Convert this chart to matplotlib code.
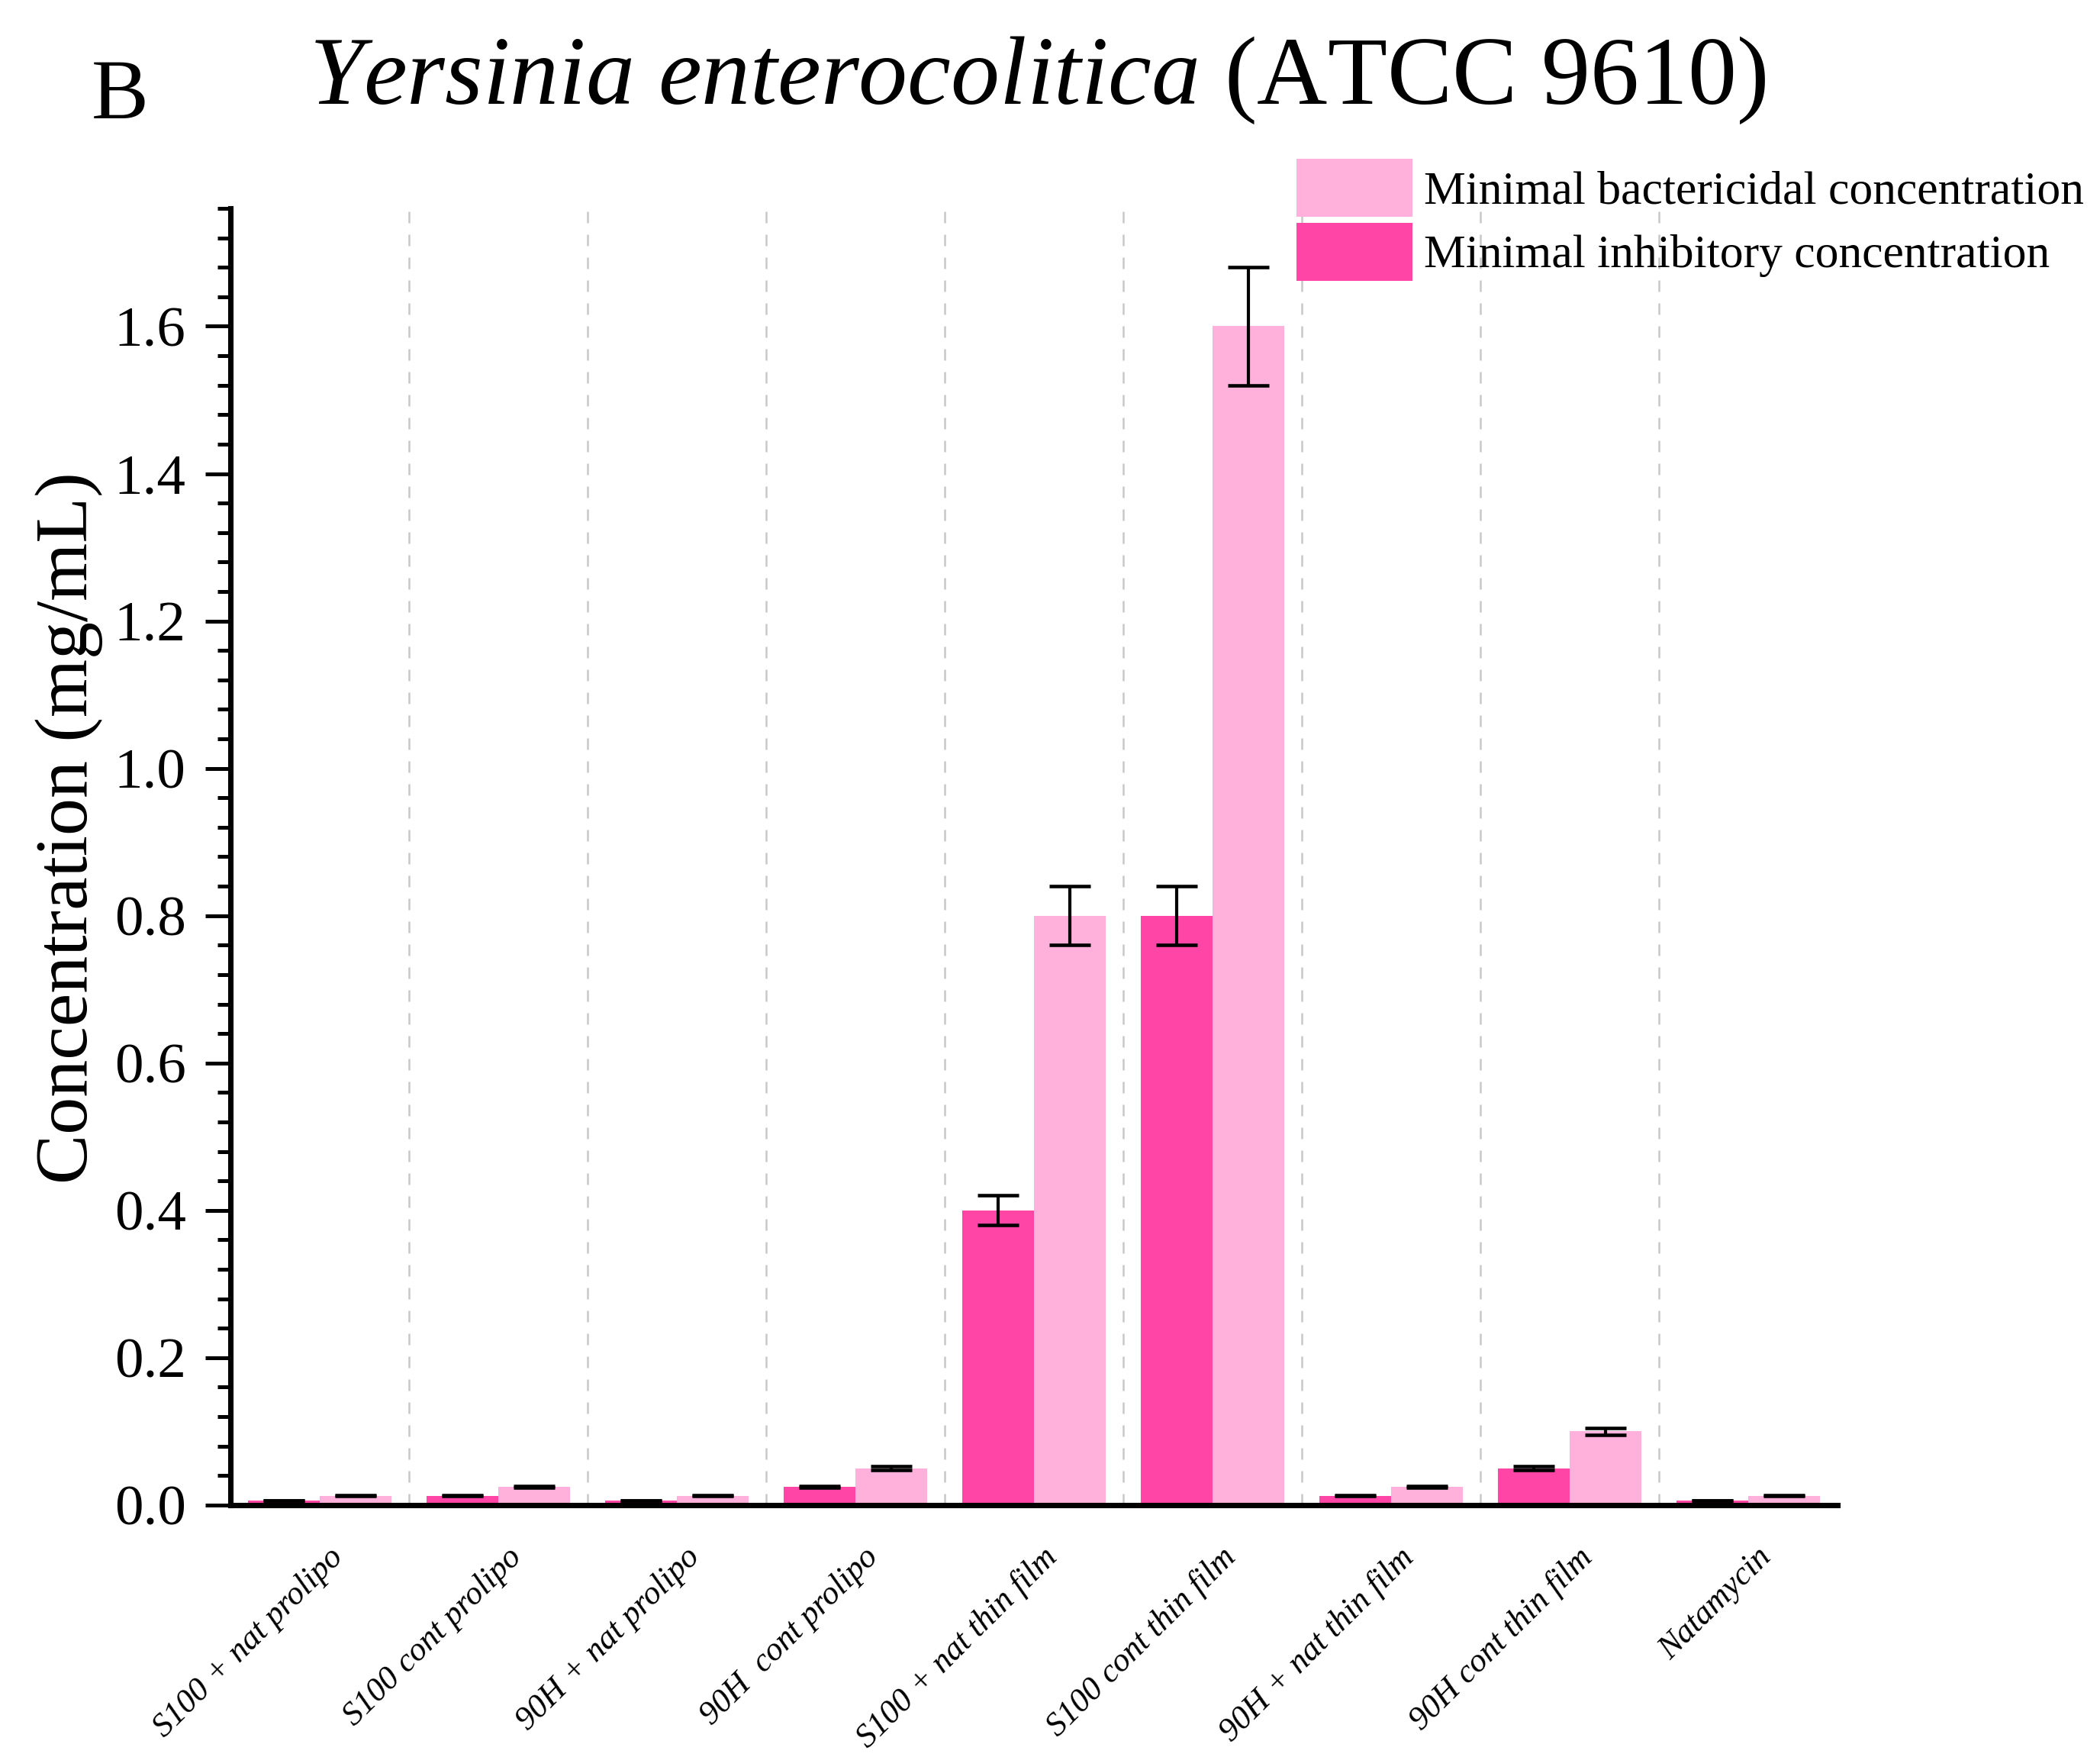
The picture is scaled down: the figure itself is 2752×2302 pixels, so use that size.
import numpy as np
import matplotlib.pyplot as plt
from matplotlib.transforms import ScaledTranslation

plt.rcParams['font.family'] = ['Liberation Serif', 'DejaVu Serif']
plt.rcParams['mathtext.fontset'] = 'custom'
plt.rcParams['mathtext.rm'] = 'Liberation Serif'
plt.rcParams['mathtext.it'] = 'Liberation Serif:italic'

# data
categories = ['S100 + nat prolipo', 'S100 cont prolipo', '90H + nat prolipo',
              '90H  cont prolipo', 'S100 + nat thin film', 'S100 cont thin film',
              '90H + nat thin film', '90H cont thin film', 'Natamycin']
mic = [0.00625, 0.0125, 0.00625, 0.025, 0.4, 0.8, 0.0125, 0.05, 0.00625]
mic_err = [0.0003, 0.0006, 0.0003, 0.0012, 0.02, 0.04, 0.0006, 0.0025, 0.0003]
mbc = [0.0125, 0.025, 0.0125, 0.05, 0.8, 1.6, 0.025, 0.1, 0.0125]
mbc_err = [0.0006, 0.0012, 0.0006, 0.0025, 0.04, 0.08, 0.0012, 0.005, 0.0006]

c_mic = '#FF46A7'
c_mbc = '#FFB1DB'

fig = plt.figure(figsize=(2753 / 300, 2302 / 300), dpi=300, facecolor='white')
ax = fig.add_axes([0.1097, 0.1434, 0.8747 - 0.1097, 0.8814 - 0.1434])

x = np.arange(len(categories))
w = 0.4
ekw = dict(ecolor='black', elinewidth=1.0, capsize=6.5, capthick=1.1)
b1 = ax.bar(x - w / 2, mic, w, yerr=mic_err, color=c_mic, error_kw=ekw, zorder=2)
b2 = ax.bar(x + w / 2, mbc, w, yerr=mbc_err, color=c_mbc, error_kw=ekw, zorder=2)

# dashed separators between groups
for xb in x[:-1] + 0.5:
    ax.axvline(xb, color='#C8C8C8', lw=0.6, ls=(0, (6, 6)), zorder=0)

ax.set_xlim(-0.5, len(categories) - 0.5)
ax.set_ylim(0, 1.76)
ax.set_yticks(np.arange(0, 1.61, 0.2))
ax.set_yticks(np.arange(0, 1.77, 0.04), minor=True)
ax.set_yticklabels(['%.1f' % v for v in np.arange(0, 1.61, 0.2)], fontsize=18)

ax.set_xticks(x)
ax.set_xticklabels(categories, rotation=45, ha='right', va='center',
                   rotation_mode='anchor', fontsize=10.5, style='italic')
ax.tick_params(axis='x', length=0, pad=15)
ax.tick_params(axis='y', which='major', length=8, width=1.2, direction='out', pad=6)
ax.tick_params(axis='y', which='minor', length=4, width=1.2, direction='out')

# nudge the slanted labels to the right (after tick_params, which resets transforms)
shift = ScaledTranslation(0.08, 0, fig.dpi_scale_trans)
for lab in ax.get_xticklabels():
    lab.set_transform(lab.get_transform() + shift)

for s in ['top', 'right']:
    ax.spines[s].set_visible(False)
for s in ['left', 'bottom']:
    ax.spines[s].set_linewidth(1.7)

ax.set_ylabel('Concentration (mg/mL)', fontsize=23.5)
ax.yaxis.set_label_coords(-0.0795, 0.522)

fig.text(0.494, 0.941, r'$\mathit{Yersinia\ enterocolitica}$ (ATCC 9610)',
         fontsize=30.7, ha='center', va='baseline')
fig.text(0.0436, 0.9327, 'B', fontsize=27, ha='left', va='baseline')

fig.legend([b2, b1], ['Minimal bactericidal concentration', 'Minimal inhibitory concentration'],
           loc='upper left', bbox_to_anchor=(0.6172, 0.9096), frameon=False,
           fontsize=14.8, handlelength=2.46, handleheight=1.52, handletextpad=0.25,
           labelspacing=0.12, borderpad=0, borderaxespad=0)

fig.savefig('out.png', dpi=300)
